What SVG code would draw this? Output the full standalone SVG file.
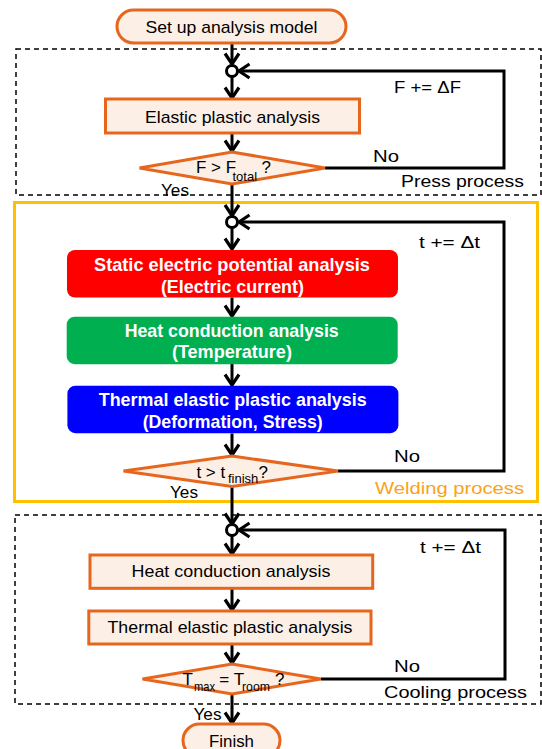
<svg xmlns="http://www.w3.org/2000/svg" width="542" height="749" viewBox="0 0 542 749">
<style>
text{font-family:"Liberation Sans",Arial,sans-serif;fill:#000;}
.t{font-size:17px;}
.c{text-anchor:middle;}
.sub{font-size:13px;}
.w{font-size:19px;font-weight:bold;fill:#fff;text-anchor:middle;}
.node{fill:#FCEFE6;stroke:#E6661E;stroke-width:3;}
.dash{fill:none;stroke:#000;stroke-width:1.5;stroke-dasharray:5,4;}
.conn path{fill:none;stroke:#000;stroke-width:3;}
.conn circle{fill:#fff;stroke:#000;stroke-width:3;}
</style>
<defs>
<marker id="ah" viewBox="0 0 13 16" refX="11.5" refY="8" markerWidth="13" markerHeight="16" markerUnits="userSpaceOnUse" orient="auto" overflow="visible">
<path d="M1,1 L11.5,8 L1,15" fill="none" stroke="#000" stroke-width="3.2"/>
</marker>
</defs>

<g id="process-boxes">
<rect id="press-box" class="dash" x="16" y="49" width="525" height="146"/>
<rect id="welding-box" x="14.5" y="202.5" width="523" height="299" fill="none" stroke="#FFC000" stroke-width="3"/>
<rect id="cooling-box" class="dash" x="15" y="515" width="526" height="189"/>
<text class="t" x="401" y="187" textLength="123" lengthAdjust="spacingAndGlyphs">Press process</text>
<text class="t" x="375" y="494" textLength="149" lengthAdjust="spacingAndGlyphs" style="fill:#F9A21C">Welding process</text>
<text class="t" x="384" y="698" textLength="143" lengthAdjust="spacingAndGlyphs">Cooling process</text>
</g>

<g id="connectors" class="conn">
<path d="M232,43 V64" marker-end="url(#ah)"/>
<path d="M232,76.5 V98" marker-end="url(#ah)"/>
<path d="M232,133 V151" marker-end="url(#ah)"/>
<path d="M325,168 H504 V71 H239" marker-end="url(#ah)"/>
<path d="M232,184 V215.5" marker-end="url(#ah)"/>
<path d="M232,227.5 V249" marker-end="url(#ah)"/>
<path d="M232,297.5 V316" marker-end="url(#ah)"/>
<path d="M232,364 V385" marker-end="url(#ah)"/>
<path d="M232,433.5 V455" marker-end="url(#ah)"/>
<path d="M338,471 H504 V222 H239" marker-end="url(#ah)"/>
<path d="M232,487 V524" marker-end="url(#ah)"/>
<path d="M232,536 V554" marker-end="url(#ah)"/>
<path d="M232,588.5 V610" marker-end="url(#ah)"/>
<path d="M232,644 V663" marker-end="url(#ah)"/>
<path d="M321,679 H505 V530 H239" marker-end="url(#ah)"/>
<path d="M232,694 V723" marker-end="url(#ah)"/>
<circle cx="232" cy="71" r="5.5"/>
<circle cx="232" cy="222" r="5.5"/>
<circle cx="232" cy="530" r="5.5"/>
<text class="t" x="394" y="93.3" textLength="67" lengthAdjust="spacingAndGlyphs">F += ΔF</text>
<text class="t" x="373" y="162" textLength="26" lengthAdjust="spacingAndGlyphs">No</text>
<text class="t" x="161" y="196" textLength="28" lengthAdjust="spacingAndGlyphs">Yes</text>
<text class="t" x="419" y="248" textLength="61" lengthAdjust="spacingAndGlyphs">t += Δt</text>
<text class="t" x="394" y="462" textLength="26" lengthAdjust="spacingAndGlyphs">No</text>
<text class="t" x="170" y="497.5" textLength="28" lengthAdjust="spacingAndGlyphs">Yes</text>
<text class="t" x="420" y="553" textLength="61" lengthAdjust="spacingAndGlyphs">t += Δt</text>
<text class="t" x="394" y="672" textLength="26" lengthAdjust="spacingAndGlyphs">No</text>
<text class="t" x="193.5" y="720" textLength="28" lengthAdjust="spacingAndGlyphs">Yes</text>
</g>

<g id="start">
<rect class="node" x="117" y="10" width="229" height="33" rx="16.5"/>
<text class="t c" x="231.5" y="33" textLength="172" lengthAdjust="spacingAndGlyphs">Set up analysis model</text>
</g>

<g id="elastic-plastic">
<rect class="node" x="105.5" y="99" width="254" height="34"/>
<text class="t c" x="232.5" y="123.3" textLength="175" lengthAdjust="spacingAndGlyphs">Elastic plastic analysis</text>
</g>

<g id="decision-press">
<polygon class="node" points="232,152 325,168 232,184 139.5,168"/>
<text class="t"><tspan x="196" y="173.3">F &gt; F</tspan><tspan class="sub" x="232.5" y="181">total</tspan><tspan x="261.5" y="173.3">?</tspan></text>
</g>

<g id="static-electric">
<rect x="67" y="250" width="331" height="47.5" rx="8" fill="#FF0000"/>
<text class="w" x="232" y="271" textLength="276" lengthAdjust="spacingAndGlyphs">Static electric potential analysis</text>
<text class="w" x="232.4" y="293" textLength="143" lengthAdjust="spacingAndGlyphs">(Electric current)</text>
</g>

<g id="heat-conduction-weld">
<rect x="66.7" y="316.7" width="331" height="47.5" rx="8" fill="#00B050"/>
<text class="w" x="231.7" y="337" textLength="214" lengthAdjust="spacingAndGlyphs">Heat conduction analysis</text>
<text class="w" x="231.9" y="358" textLength="120" lengthAdjust="spacingAndGlyphs">(Temperature)</text>
</g>

<g id="thermal-weld">
<rect x="67.4" y="385.7" width="331" height="47.5" rx="8" fill="#0000FF"/>
<text class="w" x="232.7" y="406" textLength="268" lengthAdjust="spacingAndGlyphs">Thermal elastic plastic analysis</text>
<text class="w" x="232.7" y="428.3" textLength="180" lengthAdjust="spacingAndGlyphs">(Deformation, Stress)</text>
</g>

<g id="decision-weld">
<polygon class="node" points="232,456 338,471 232,486.5 123.5,471"/>
<text class="t"><tspan x="196.4" y="477.7">t &gt; t</tspan><tspan class="sub" x="228" y="482.5">finish</tspan><tspan x="258.6" y="477.7">?</tspan></text>
</g>

<g id="heat-conduction-cool">
<rect class="node" x="90" y="555" width="282.7" height="33.3"/>
<text class="t c" x="231" y="577.3" textLength="199" lengthAdjust="spacingAndGlyphs">Heat conduction analysis</text>
</g>

<g id="thermal-cool">
<rect class="node" x="88.8" y="611" width="282.2" height="33"/>
<text class="t c" x="230" y="633.3" textLength="245" lengthAdjust="spacingAndGlyphs">Thermal elastic plastic analysis</text>
</g>

<g id="decision-cool">
<polygon class="node" points="232,664 320.8,679 232,694 142.5,679"/>
<text class="t"><tspan x="182.5" y="685">T</tspan><tspan class="sub" x="194" y="691" textLength="21" lengthAdjust="spacingAndGlyphs">max</tspan><tspan x="219.3" y="685">= T</tspan><tspan class="sub" x="242" y="691" textLength="28" lengthAdjust="spacingAndGlyphs">room</tspan><tspan x="275" y="685">?</tspan></text>
</g>

<g id="finish">
<rect class="node" x="183" y="724" width="97" height="33" rx="16.5"/>
<text class="t c" x="231.5" y="746.5" textLength="45" lengthAdjust="spacingAndGlyphs">Finish</text>
</g>
</svg>
